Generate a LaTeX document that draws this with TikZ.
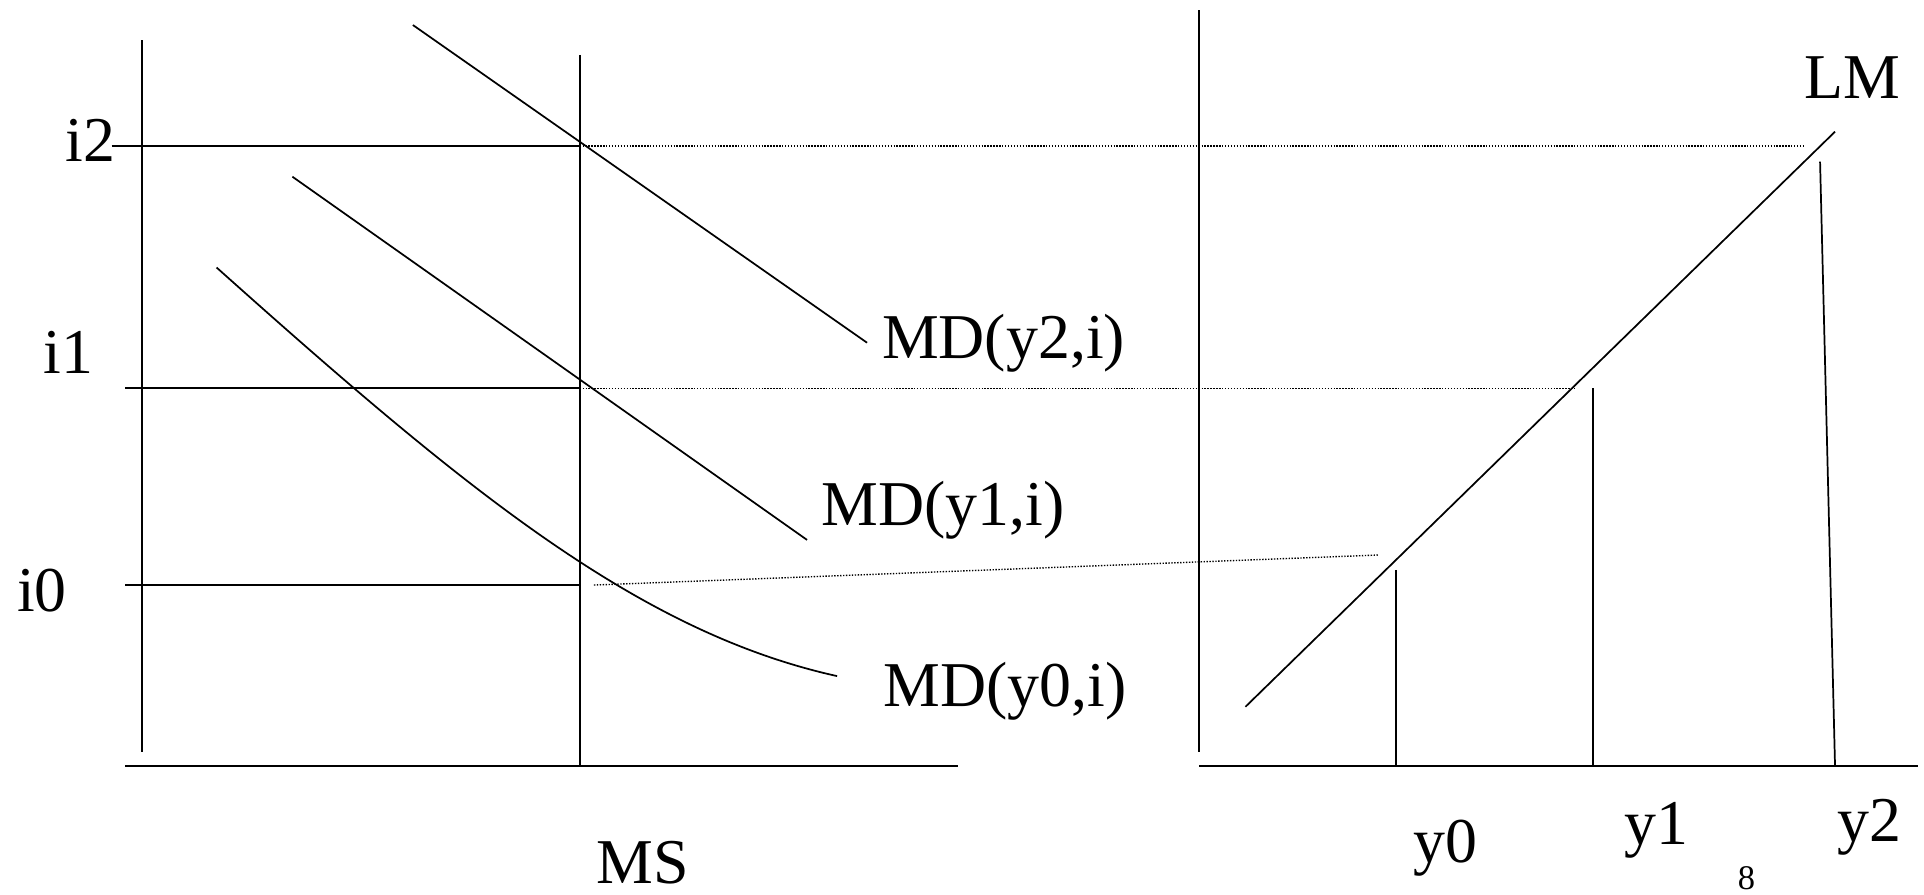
\documentclass[tikz,border=0pt]{standalone}
\usepackage{fontspec}
\setmainfont{Liberation Serif}

\begin{document}
\begin{tikzpicture}[
  x=0.025cm, y=-0.025cm,
  axis/.style={line width=1.1pt},
  curve/.style={line width=1pt},
  guide/.style={line width=0.8pt, dash pattern=on 0.8pt off 0.9pt},
  lbl/.style={anchor=base west, inner sep=0pt, font=\fontsize{37}{44}\selectfont},
  small/.style={anchor=base west, inner sep=0pt, font=\fontsize{20}{24}\selectfont}
  ]
  \useasboundingbox (0,0) rectangle (1568,729);

  % money market
  \coordinate (ltop) at (115.4,32.6);
  \coordinate (lbot) at (115.4,613);
  \coordinate (lx0) at (102,624.6);
  \coordinate (lx1) at (780.4,624.6);
  \coordinate (mstop) at (472.4,44.8);
  \coordinate (msbot) at (472.4,624.6);
  \coordinate (e2) at (472.4,119);
  \coordinate (e1) at (472.4,316.5);
  \coordinate (e0) at (472.4,476.8);
  \coordinate (a2) at (91,119);
  \coordinate (a1) at (102,316.5);
  \coordinate (a0) at (102,476.8);

  \draw[axis] (ltop) -- (lbot);
  \draw[axis] (lx0) -- (lx1);
  \draw[axis] (mstop) -- (msbot);
  \draw[axis] (a2) -- (e2);
  \draw[axis] (a1) -- (e1);
  \draw[axis] (a0) -- (e0);

  \coordinate (md2a) at (336.5,20.4);
  \coordinate (md2b) at (706.6,279.3);
  \coordinate (md1a) at (238.3,144);
  \coordinate (md1b) at (657.7,440);
  \coordinate (md0a) at (176.5,218);
  \coordinate (md0b) at (682.2,551);

  \draw[curve] (md2a) -- (md2b);
  \draw[curve] (md1a) -- (md1b);
  \draw[curve] (md0a) .. controls (380,400) and (520,515) .. (md0b);

  \node[lbl] (i2) at (53,131.8) {i2};
  \node[lbl] (i1) at (35.3,304.3) {i1};
  \node[lbl] (i0) at (13.6,498.5) {i0};
  \node[lbl] (md2) at (718.6,292) {MD(y2,i)};
  \node[lbl] (md1) at (669.5,428) {MD(y1,i)};
  \node[lbl] (md0) at (719.7,576) {MD(y0,i)};
  \node[lbl] (ms) at (485.7,720) {MS};

  % guides across
  \coordinate (g2a) at (474.8,119);
  \coordinate (g2b) at (1471,119);
  \coordinate (g1a) at (474.8,316.5);
  \coordinate (g1b) at (1283,316.5);
  \coordinate (g0a) at (484,476.8);
  \coordinate (g0b) at (1124,452.3);

  \draw[guide] (g2a) -- (g2b);
  \draw[guide] (g1a) -- (g1b);
  \draw[guide] (g0a) -- (g0b);

  % LM side
  \coordinate (rtop) at (977.5,8.2);
  \coordinate (rbot) at (977.5,612.6);
  \coordinate (rx0) at (977.5,624.6);
  \coordinate (rx1) at (1562.7,624.6);
  \coordinate (lma) at (1015,576);
  \coordinate (lmb) at (1495.5,107.3);
  \coordinate (y0top) at (1137.6,464.5);
  \coordinate (y0bot) at (1137.6,624.6);
  \coordinate (y1top) at (1298,316.5);
  \coordinate (y1bot) at (1298,624.6);
  \coordinate (y2top) at (1483.3,131.8);
  \coordinate (y2bot) at (1495.5,624.6);

  \draw[axis] (rtop) -- (rbot);
  \draw[axis] (rx0) -- (rx1);
  \draw[curve] (lma) -- (lmb);
  \draw[curve] (y0top) -- (y0bot);
  \draw[curve] (y1top) -- (y1bot);
  \draw[curve] (y2top) -- (y2bot);

  \node[lbl] (lm) at (1470,80) {LM};
  \node[lbl] (y0) at (1151.6,702.5) {y0};
  \node[lbl] (y1) at (1324,688.4) {y1};
  \node[lbl] (y2) at (1497,685.6) {y2};
  \node[small] (pg) at (1416,725) {8};
\end{tikzpicture}
\end{document}
